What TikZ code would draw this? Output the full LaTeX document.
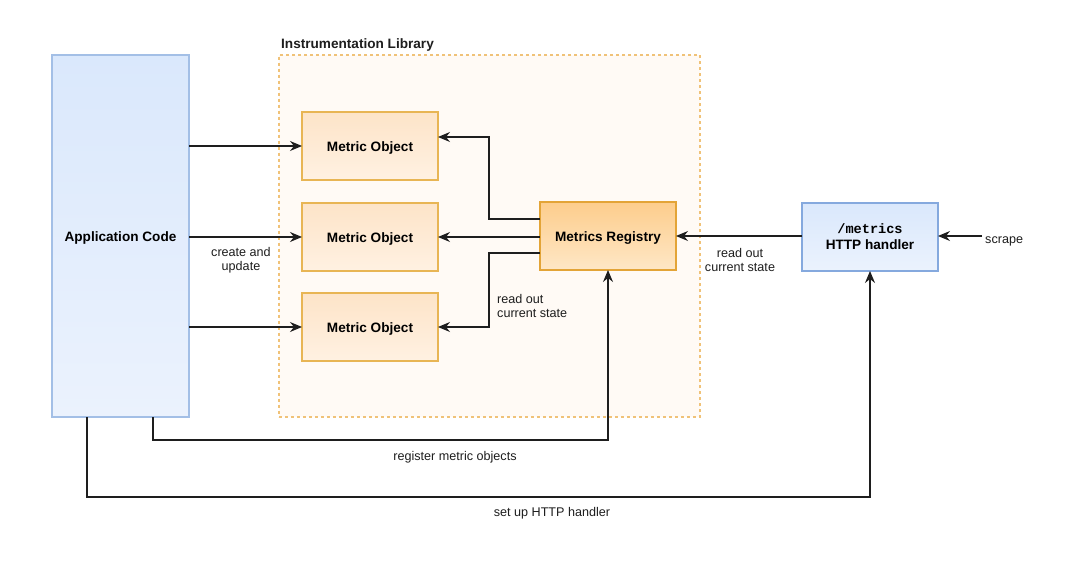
\documentclass[tikz,border=0pt]{standalone}
\usepackage{fontspec}
\setmainfont{Liberation Sans}
\newfontfamily\monofont{Liberation Mono}
\usetikzlibrary{arrows.meta}
\definecolor{appTop}{HTML}{DAE8FC}
\definecolor{appBot}{HTML}{EBF2FD}
\definecolor{appLine}{HTML}{A3BFE6}
\definecolor{httpLine}{HTML}{85A9DE}
\definecolor{moTop}{HTML}{FDE4C8}
\definecolor{moBot}{HTML}{FFF1E2}
\definecolor{moLine}{HTML}{E8B554}
\definecolor{regTop}{HTML}{FDCD8C}
\definecolor{regBot}{HTML}{FEE7C6}
\definecolor{regLine}{HTML}{E3A437}
\definecolor{libFill}{HTML}{FFFAF5}
\definecolor{libLine}{HTML}{F0C278}
\definecolor{ink}{HTML}{1E1E1E}
\tikzset{
  boxbase/.style={rectangle, inner sep=0pt, outer sep=0pt, line width=1.2pt, align=center,
    font=\bfseries\fontsize{13.6}{16}\selectfont},
  oneline/.style={text height=0.72em+3pt, text depth=0pt},
  appstyle/.style={boxbase, oneline, draw=appLine, top color=appTop, bottom color=appBot},
  httpstyle/.style={boxbase, draw=httpLine, top color=appTop, bottom color=appBot,
    minimum width=136pt, minimum height=68pt},
  mostyle/.style={boxbase, oneline, draw=moLine, top color=moTop, bottom color=moBot,
    minimum width=136pt, minimum height=68pt},
  regstyle/.style={boxbase, oneline, draw=regLine, top color=regTop, bottom color=regBot,
    minimum width=136pt, minimum height=68pt},
  libstyle/.style={rectangle, inner sep=0pt, outer sep=0pt, draw=libLine, fill=libFill,
    line width=1.1pt, dash pattern=on 3pt off 3pt},
  arr/.style={draw=ink, line width=1.1pt, -{Stealth[length=12pt,width=10pt,inset=4pt]}},
  lbl/.style={inner sep=0pt, align=center, text=ink, font=\fontsize{12.6}{14}\selectfont},
}
\begin{document}
\begin{tikzpicture}[x=1pt,y=-1pt]
\useasboundingbox[fill=white] (0,0) rectangle (1080,567);

% containers
\node[libstyle, minimum width=421pt, minimum height=362pt] (lib) at (489.5,236) {};
\node[lbl, anchor=west, font=\bfseries\fontsize{13.6}{16}\selectfont] (libtitle) at (281,45) {Instrumentation Library};
\node[appstyle, minimum width=137pt, minimum height=362pt] (app) at (120.5,236) {Application Code};

% boxes
\node[mostyle] (mo1) at (370,146) {Metric Object};
\node[mostyle] (mo2) at (370,237) {Metric Object};
\node[mostyle] (mo3) at (370,327) {Metric Object};
\node[regstyle] (reg) at (608,236) {Metrics Registry};
\node[httpstyle] (http) at (870,237) {{\monofont\bfseries /metrics}\\HTTP handler};
\node[lbl, anchor=west, oneline] (scrape) at (985,238) {scrape};

% app -> metric objects
\draw[arr] (app.east |- mo1.west) -- (mo1.west);
\draw[arr] (app.east |- mo2.west) -- (mo2.west);
\draw[arr] (app.east |- mo3.west) -- (mo3.west);
\node[lbl] (cu) at (241,260) {create and\\update};

% registry -> metric objects
\draw[arr] ([yshift=17pt]reg.west) -- ++(-51,0) |- ([yshift=9pt]mo1.east);
\draw[arr] (reg.west |- mo2.east) -- (mo2.east);
\draw[arr] ([yshift=-17pt]reg.west) -- ++(-51,0) |- (mo3.east);
\node[lbl, anchor=west, align=left] (ro2) at (497,306) {read out\\current state};

% http -> registry
\draw[arr] (http.west |- reg.east) -- (reg.east);
\node[lbl] (ro1) at (740,260) {read out\\current state};
\draw[arr] ([xshift=-3pt]scrape.west |- reg.east) -- (reg.east -| http.east);

% bottom connectors
\draw[arr] ([xshift=32.5pt]app.south) -- ++(0,23) -| (reg.south);
\node[lbl] (reglbl) at (455,457) {register metric objects};
\draw[arr] ([xshift=-33.5pt]app.south) -- ++(0,80) -| (http.south);
\node[lbl] (httplbl) at (552,513) {set up HTTP handler};
\end{tikzpicture}
\end{document}
